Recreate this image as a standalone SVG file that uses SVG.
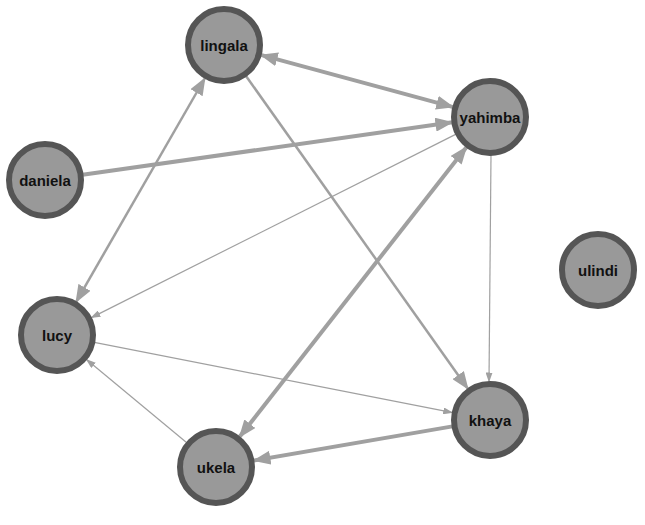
<svg xmlns="http://www.w3.org/2000/svg" width="645" height="525" viewBox="0 0 645 525">
<style>
.n circle{fill:#999;stroke:#555;stroke-width:6}
.n text{font-family:"Liberation Sans",Arial,sans-serif;font-weight:bold;font-size:15px;fill:#111;text-anchor:middle;dominant-baseline:central}
.e line{stroke:#a0a0a0;fill:none}
.t{stroke-width:4}.m{stroke-width:2.5}.s{stroke-width:1.2}
</style>
<defs>
<marker id="big" markerUnits="userSpaceOnUse" markerWidth="18" markerHeight="14" viewBox="0 0 18 14" refX="17" refY="7" orient="auto-start-reverse"><path d="M0,0L18,7L0,14z" fill="#a0a0a0"/></marker>
<marker id="sm" markerUnits="userSpaceOnUse" markerWidth="10" markerHeight="7" viewBox="0 0 10 7" refX="9.5" refY="3.5" orient="auto-start-reverse"><path d="M0,0L10,3.5L0,7z" fill="#a0a0a0"/></marker>
</defs>
<g id="edges" class="e">
<line class="t" x1="260.7" y1="54.9" x2="453.3" y2="107.1" marker-start="url(#big)" marker-end="url(#big)"/>
<line class="t" x1="82.6" y1="174.7" x2="452.4" y2="122.3" marker-end="url(#big)"/>
<line class="s" x1="456.1" y1="134.1" x2="90.9" y2="317.9" marker-end="url(#sm)"/>
<line class="m" x1="205" y1="78" x2="76" y2="302.1" marker-start="url(#big)" marker-end="url(#big)"/>
<line class="m" x1="246" y1="76" x2="468" y2="389" marker-end="url(#big)"/>
<line class="s" x1="491" y1="155" x2="489" y2="382" marker-end="url(#sm)"/>
<line class="t" x1="466.6" y1="146.9" x2="239.4" y2="437.1" marker-start="url(#big)" marker-end="url(#big)"/>
<line class="s" x1="94.3" y1="342.3" x2="452.7" y2="412.7" marker-end="url(#sm)"/>
<line class="s" x1="186.8" y1="442.7" x2="86.2" y2="359.3" marker-end="url(#sm)"/>
<line class="t" x1="452.5" y1="426.4" x2="253.5" y2="460.6" marker-end="url(#big)"/>
</g>
<g id="lingala" class="n"><circle cx="224" cy="45" r="36"/><text x="224" y="45">lingala</text></g>
<g id="yahimba" class="n"><circle cx="490" cy="117" r="36"/><text x="490" y="117">yahimba</text></g>
<g id="daniela" class="n"><circle cx="45" cy="180" r="36"/><text x="45" y="180">daniela</text></g>
<g id="ulindi" class="n"><circle cx="598" cy="270" r="36"/><text x="598" y="270">ulindi</text></g>
<g id="lucy" class="n"><circle cx="57" cy="335" r="36"/><text x="57" y="335">lucy</text></g>
<g id="khaya" class="n"><circle cx="490" cy="420" r="36"/><text x="490" y="420">khaya</text></g>
<g id="ukela" class="n"><circle cx="216" cy="467" r="36"/><text x="216" y="467">ukela</text></g>
</svg>
